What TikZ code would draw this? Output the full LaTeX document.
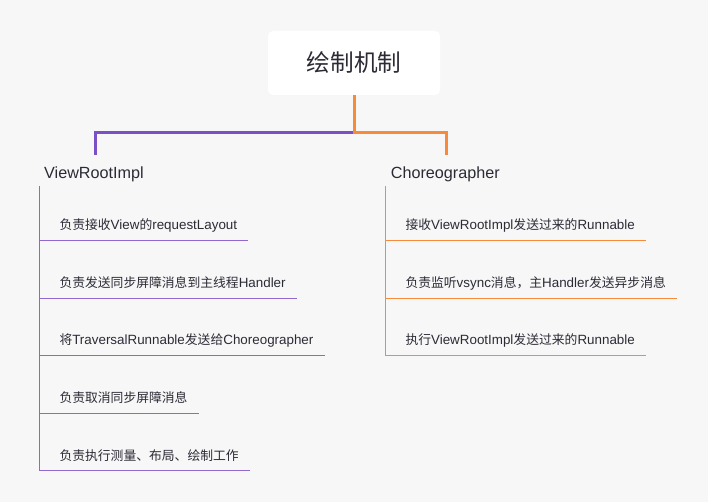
\documentclass[tikz,border=0pt]{standalone}
\usepackage{fontspec}
\setmainfont{Liberation Sans}[Scale=1.03]
\newfontfamily\cjk{Noto Sans CJK SC}[Scale=0.985]
\newcommand\zh[1]{{\cjk #1}}
\definecolor{bgcol}{HTML}{F7F7F7}
\definecolor{inkcol}{HTML}{2B2B36}
\definecolor{vrcol}{HTML}{7B4FC6}
\definecolor{chcol}{HTML}{F78B3B}
\tikzset{
  rootbox/.style={fill=white,rounded corners=5pt,minimum width=172pt,minimum height=64pt,
    text=inkcol,font=\cjk\fontsize{24}{28}\selectfont},
  headnode/.style={inner sep=0pt,anchor=base west,text=inkcol,font=\fontsize{15.7}{19}\selectfont},
  itemnode/.style={inner sep=0pt,anchor=base west,text=inkcol,font=\fontsize{13}{16}\selectfont},
  vbranch/.style={draw=vrcol,line width=3pt},
  cbranch/.style={draw=chcol,line width=3pt},
  vline/.style={draw=vrcol!85,line width=1pt},
  cline/.style={draw=chcol,line width=1pt}
}

\begin{document}
\begin{tikzpicture}[x=1pt,y=1pt]
\useasboundingbox (0,0) rectangle (708,502);
\fill[bgcol] (0,0) rectangle (708,502);
% root and the two branches
\node[rootbox] (root) at (354,439) {绘制机制};
\node[headnode] (vr) at (44,323.7) {ViewRootImpl};
\node[headnode] (ch) at (390.7,323.7) {Choreographer};
\coordinate (fork) at ([yshift=-37.3pt]root.south);
\draw[vbranch] (fork) -| ([shift={(2pt,11.5pt)}]vr.north);
\draw[cbranch] (root.south) -- (fork) -| ([shift={(1pt,11.5pt)}]ch.north);
% ViewRootImpl items
\coordinate (vtop) at (39.3,316);
\node[itemnode] (v1) at (59.3,272) {\zh{负责接收}View\zh{的}requestLayout};
\node[itemnode] (v2) at (59.3,214.4) {\zh{负责发送同步屏障消息到主线程}Handler};
\node[itemnode] (v3) at (59.3,157) {\zh{将}TraversalRunnable\zh{发送给}Choreographer};
\node[itemnode] (v4) at (59.3,99) {\zh{负责取消同步屏障消息}};
\node[itemnode] (v5) at (59.3,41.7) {\zh{负责执行测量、布局、绘制工作}};
\coordinate (v1u) at ([shift={(11pt,-10.7pt)}]v1.base east);
\coordinate (v2u) at ([shift={(11pt,-10.7pt)}]v2.base east);
\coordinate (v3u) at ([shift={(11pt,-10.7pt)}]v3.base east);
\coordinate (v4u) at ([shift={(11pt,-10.7pt)}]v4.base east);
\coordinate (v5u) at ([shift={(11pt,-10.7pt)}]v5.base east);
\draw[vline] (vtop) -- (vtop |- v5u);
\draw[vline] (vtop |- v1u) -- (v1u);
\draw[vline] (vtop |- v2u) -- (v2u);
\draw[vline] (vtop |- v3u) -- (v3u);
\draw[vline] (vtop |- v4u) -- (v4u);
\draw[vline] (vtop |- v5u) -- (v5u);
% Choreographer items
\coordinate (ctop) at (385.3,316);
\node[itemnode] (c1) at (405.3,272) {\zh{接收}ViewRootImpl\zh{发送过来的}Runnable};
\node[itemnode] (c2) at (405.3,214.4) {\zh{负责监听}vsync\zh{消息，主}Handler\zh{发送异步消息}};
\node[itemnode] (c3) at (405.3,157) {\zh{执行}ViewRootImpl\zh{发送过来的}Runnable};
\coordinate (c1u) at ([shift={(11pt,-10.7pt)}]c1.base east);
\coordinate (c2u) at ([shift={(11pt,-10.7pt)}]c2.base east);
\coordinate (c3u) at ([shift={(11pt,-10.7pt)}]c3.base east);
\draw[cline] (ctop) -- (ctop |- c3u);
\draw[cline] (ctop |- c1u) -- (c1u);
\draw[cline] (ctop |- c2u) -- (c2u);
\draw[cline] (ctop |- c3u) -- (c3u);
\end{tikzpicture}
\end{document}
